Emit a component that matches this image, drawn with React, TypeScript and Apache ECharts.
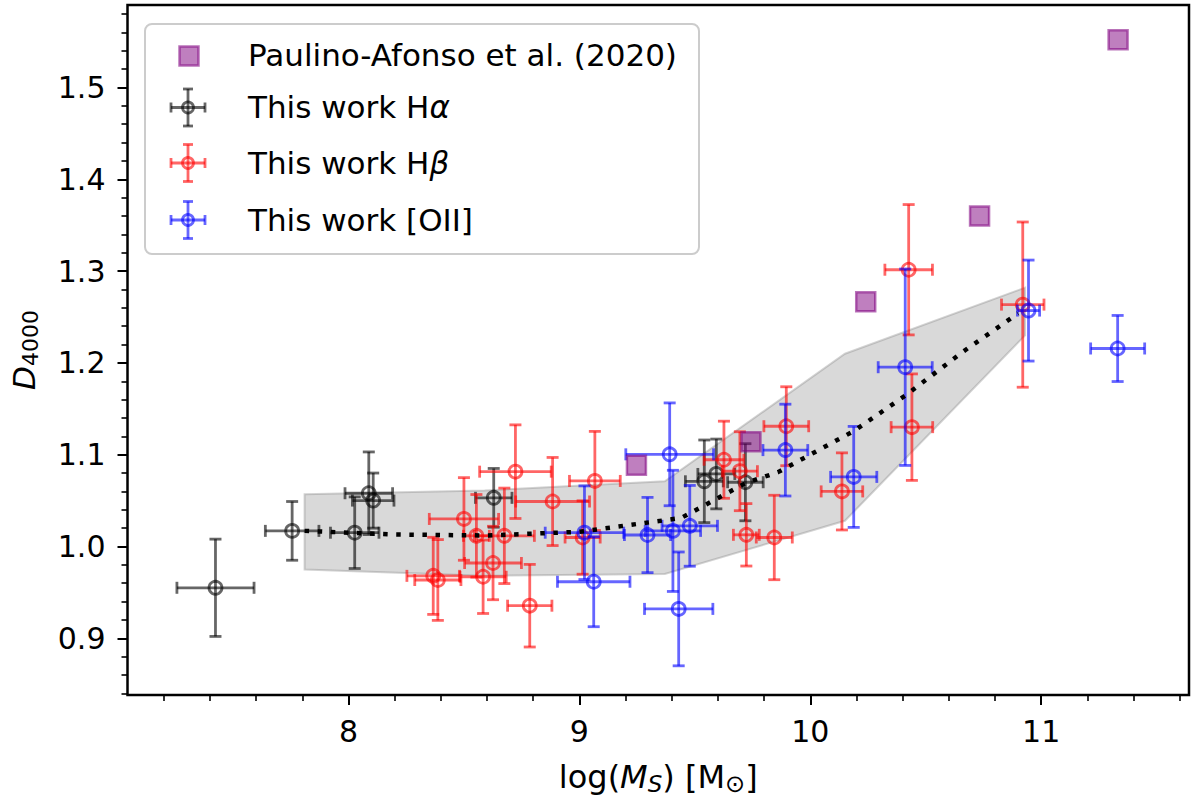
import { useEffect, useRef } from 'react';
import * as echarts from 'echarts';

const FONT = 'DejaVu Sans';

// Paulino-Afonso et al. (2020)
const paMass = [9.247, 9.743, 10.24, 10.733, 11.333];
const paD4000 = [1.0885, 1.114, 1.2665, 1.36, 1.552];

// This work, H-alpha
const haMass = [7.424, 7.756, 8.027, 8.088, 8.107, 8.629, 9.541, 9.593, 9.719];
const haD4000 = [0.955, 1.017, 1.015, 1.058, 1.05, 1.053, 1.071, 1.079, 1.07];
const haMassErr = [0.167, 0.116, 0.105, 0.103, 0.09, 0.079, 0.082, 0.08, 0.077];
const haD4000Err = [0.053, 0.032, 0.039, 0.045, 0.03, 0.032, 0.045, 0.038, 0.042];

// This work, H-beta
const hbMass = [8.367, 8.387, 8.5, 8.554, 8.583, 8.626, 8.675, 8.723, 8.785, 8.884, 9.014,
  9.067, 9.626, 9.695, 9.723, 9.844, 9.896, 10.137, 10.426, 10.44, 10.92];
const hbD4000 = [0.968, 0.9635, 1.03, 1.0116, 0.967, 0.982, 1.0116, 1.0815, 0.9355, 1.049, 1.0098,
  1.0714, 1.0945, 1.082, 1.0127, 1.0098, 1.131, 1.06, 1.3015, 1.13, 1.2635];
const hbMassErr = [0.114, 0.1, 0.15, 0.056, 0.1, 0.123, 0.13, 0.155, 0.096, 0.16, 0.076,
  0.11, 0.086, 0.076, 0.056, 0.078, 0.097, 0.09, 0.103, 0.09, 0.092];
const hbD4000Err = [0.042, 0.044, 0.045, 0.045, 0.04, 0.04, 0.052, 0.051, 0.045, 0.048, 0.04,
  0.054, 0.042, 0.043, 0.034, 0.046, 0.043, 0.042, 0.071, 0.058, 0.09];

// This work, [OII]
const oiiMass = [9.022, 9.062, 9.295, 9.391, 9.405, 9.43, 9.478, 9.892, 10.188, 10.411, 10.945, 11.331];
const oiiD4000 = [1.015, 0.9616, 1.0125, 1.1004, 1.017, 0.932, 1.0225, 1.105, 1.0758, 1.1953, 1.257, 1.2157];
const oiiMassErr = [0.17, 0.157, 0.1, 0.19, 0.12, 0.148, 0.12, 0.097, 0.1, 0.117, 0.048, 0.117];
const oiiD4000Err = [0.051, 0.049, 0.041, 0.056, 0.066, 0.062, 0.044, 0.05, 0.055, 0.107, 0.055, 0.036];

// running median (dotted) and its spread (shaded band)
const medMass = [7.81, 8.2, 8.6, 9.0, 9.44, 9.58, 9.72, 9.86, 10.19, 10.42, 10.66, 10.9];
const medD4000 = [1.017, 1.013, 1.012, 1.016, 1.031, 1.05, 1.069, 1.081, 1.126, 1.166, 1.212, 1.254];
const bandMass = [7.81, 8.59, 9.37, 10.15, 10.93];
const bandLow = [0.975, 0.968, 0.97, 1.028, 1.23];
const bandHigh = [1.057, 1.061, 1.071, 1.21, 1.282];

// axes
const X_MIN = 7.043;
const X_MAX = 11.64;
const Y_MIN = 0.8382;
const Y_MAX = 1.5899;
const xMajor = [8, 9, 10, 11];
const yMajor = [0.9, 1.0, 1.1, 1.2, 1.3, 1.4, 1.5];

const minorTicks = (from: number, to: number, step: number, skip: number[]) => {
  const out: number[] = [];
  const n = Math.round((to - from) / step);
  for (let i = 0; i <= n; i++) {
    const v = Math.round((from + i * step) * 1000) / 1000;
    if (!skip.some((s) => Math.abs(s - v) < 1e-6)) out.push(v);
  }
  return out;
};
const xMinor = minorTicks(7.2, 11.6, 0.2, xMajor);
const yMinor = minorTicks(0.84, 1.58, 0.02, yMajor);

const BLACK = 'rgba(0,0,0,0.6)';
const RED = 'rgba(255,0,0,0.6)';
const BLUE = 'rgba(0,0,255,0.6)';
const PURPLE_FILL = 'rgba(128,0,128,0.5)';
const PURPLE_EDGE = 'rgba(128,0,128,0.55)';
const CAP = 6;
const LW = 2.8;

const errorSeries = (name: string, xs: number[], ys: number[], xe: number[], ye: number[], color: string) => ({
  name,
  type: 'custom',
  clip: true,
  data: xs.map((x, i) => [x, ys[i], xe[i], ye[i]]),
  encode: { x: 0, y: 1 },
  renderItem: (_params: any, api: any) => {
    const x = api.value(0);
    const y = api.value(1);
    const dx = api.value(2);
    const dy = api.value(3);
    const c = api.coord([x, y]);
    const l = api.coord([x - dx, y])[0];
    const r = api.coord([x + dx, y])[0];
    const t = api.coord([x, y + dy])[1];
    const b = api.coord([x, y - dy])[1];
    const style = { stroke: color, lineWidth: LW };
    const seg = (x1: number, y1: number, x2: number, y2: number) => ({
      type: 'line',
      shape: { x1, y1, x2, y2 },
      style,
    });
    return {
      type: 'group',
      children: [
        seg(l, c[1], r, c[1]),
        seg(c[0], t, c[0], b),
        seg(l, c[1] - CAP, l, c[1] + CAP),
        seg(r, c[1] - CAP, r, c[1] + CAP),
        seg(c[0] - CAP, t, c[0] + CAP, t),
        seg(c[0] - CAP, b, c[0] + CAP, b),
        {
          type: 'circle',
          shape: { cx: c[0], cy: c[1], r: 6.5 },
          style: { stroke: color, fill: 'none', lineWidth: LW },
        },
      ],
    };
  },
});

// legend handle: a small error-bar cross with an open circle
const legendGlyph = (cx: number, cy: number, color: string) => {
  const style = { stroke: color, lineWidth: LW };
  const seg = (x1: number, y1: number, x2: number, y2: number) => ({
    type: 'line',
    z: 102,
    shape: { x1, y1, x2, y2 },
    style,
  });
  return [
    seg(cx - 17, cy, cx + 17, cy),
    seg(cx, cy - 18.5, cx, cy + 18.5),
    seg(cx - 17, cy - 5, cx - 17, cy + 5),
    seg(cx + 17, cy - 5, cx + 17, cy + 5),
    seg(cx - 5, cy - 18.5, cx + 5, cy - 18.5),
    seg(cx - 5, cy + 18.5, cx + 5, cy + 18.5),
    {
      type: 'circle',
      z: 102,
      shape: { cx, cy, r: 5.5 },
      style: { stroke: color, fill: 'none', lineWidth: LW },
    },
  ];
};

const legendRich = {
  n: { fontSize: 31, fontFamily: FONT, color: '#000' },
  i: { fontSize: 31, fontFamily: FONT, fontStyle: 'italic', color: '#000' },
};

const legendText = (y: number, text: string) => ({
  type: 'text',
  x: 248,
  y,
  z: 102,
  style: {
    text,
    rich: legendRich,
    fontSize: 31,
    fontFamily: FONT,
    fill: '#000',
    verticalAlign: 'middle',
  },
});

const App = () => {
  const chartRef = useRef<HTMLDivElement>(null);

  useEffect(() => {
    if (!chartRef.current) return;
    const chart = echarts.init(chartRef.current, null, { renderer: 'svg' });

    const tickLabel = { color: '#000', fontSize: 30, fontFamily: FONT };

    const option = {
      animation: false,
      backgroundColor: '#fff',
      grid: {
        show: true,
        left: 127,
        right: 11,
        top: 5,
        bottom: 110,
        borderColor: '#000',
        borderWidth: 2.5,
        backgroundColor: 'transparent',
      },
      xAxis: [
        {
          type: 'value',
          position: 'bottom',
          min: X_MIN,
          max: X_MAX,
          splitLine: { show: false },
          axisLine: { show: false },
          axisTick: { customValues: xMajor, length: 10, lineStyle: { color: '#000', width: 2 } },
          axisLabel: { ...tickLabel, customValues: xMajor, margin: 21 },
          name: '{n|log(}{i|M}{is|S}{n|) [M}{s|⊙}{n|]}',
          nameLocation: 'middle',
          nameGap: 63,
          nameTextStyle: {
            fontSize: 32,
            fontFamily: FONT,
            color: '#000',
            rich: {
              n: { fontSize: 32, fontFamily: FONT, color: '#000' },
              i: { fontSize: 32, fontFamily: FONT, fontStyle: 'italic', color: '#000' },
              is: { fontSize: 23, fontFamily: FONT, fontStyle: 'italic', color: '#000', padding: [14, 0, 0, 0] },
              s: { fontSize: 24, fontFamily: FONT, color: '#000', padding: [14, 0, 0, 0] },
            },
          },
        },
        {
          type: 'value',
          position: 'bottom',
          min: X_MIN,
          max: X_MAX,
          splitLine: { show: false },
          axisLine: { show: false },
          axisLabel: { show: false },
          axisTick: { customValues: xMinor, length: 6, lineStyle: { color: '#000', width: 1.6 } },
        },
      ],
      yAxis: [
        {
          type: 'value',
          position: 'left',
          min: Y_MIN,
          max: Y_MAX,
          splitLine: { show: false },
          axisLine: { show: false },
          axisTick: { customValues: yMajor, length: 10, lineStyle: { color: '#000', width: 2 } },
          axisLabel: {
            ...tickLabel,
            customValues: yMajor,
            margin: 22,
            formatter: (v: number) => v.toFixed(1),
          },
          name: '{i|D}{s|4000}',
          nameLocation: 'middle',
          nameRotate: 90,
          nameGap: 86,
          nameTextStyle: {
            fontSize: 31,
            fontFamily: FONT,
            color: '#000',
            rich: {
              i: { fontSize: 31, fontFamily: FONT, fontStyle: 'italic', color: '#000' },
              s: { fontSize: 22, fontFamily: FONT, color: '#000', padding: [14, 0, 0, 0] },
            },
          },
        },
        {
          type: 'value',
          position: 'left',
          min: Y_MIN,
          max: Y_MAX,
          splitLine: { show: false },
          axisLine: { show: false },
          axisLabel: { show: false },
          axisTick: { customValues: yMinor, length: 6, lineStyle: { color: '#000', width: 1.6 } },
        },
      ],
      series: [
        {
          name: 'spread',
          type: 'custom',
          clip: true,
          data: bandMass.map((x, i) => [x, bandLow[i], bandHigh[i]]),
          encode: { x: 0, y: [1, 2] },
          renderItem: (params: any, api: any) => {
            if (params.dataIndex !== 0) return null;
            const upper = bandMass.map((x, i) => api.coord([x, bandHigh[i]]));
            const lower = bandMass.map((x, i) => api.coord([x, bandLow[i]])).reverse();
            return {
              type: 'polygon',
              shape: { points: upper.concat(lower) },
              style: { fill: 'rgba(128,128,128,0.3)', stroke: 'rgba(128,128,128,0.35)', lineWidth: 2 },
            };
          },
        },
        {
          name: 'Paulino-Afonso et al. (2020)',
          type: 'scatter',
          symbol: 'rect',
          symbolSize: 19,
          data: paMass.map((x, i) => [x, paD4000[i]]),
          itemStyle: { color: PURPLE_FILL, borderColor: PURPLE_EDGE, borderWidth: 2.5, opacity: 1 },
        },
        errorSeries('This work Hα', haMass, haD4000, haMassErr, haD4000Err, BLACK),
        errorSeries('This work Hβ', hbMass, hbD4000, hbMassErr, hbD4000Err, RED),
        errorSeries('This work [OII]', oiiMass, oiiD4000, oiiMassErr, oiiD4000Err, BLUE),
        {
          name: 'median',
          type: 'line',
          symbol: 'none',
          data: medMass.map((x, i) => [x, medD4000[i]]),
          lineStyle: { color: '#000', width: 4.5, type: [4.5, 8.6] },
        },
      ],
      graphic: [
        {
          type: 'rect',
          z: 100,
          shape: { x: 145, y: 24, width: 554, height: 230, r: 7 },
          style: { fill: 'rgba(255,255,255,0.8)', stroke: '#cccccc', lineWidth: 2 },
        },
        {
          type: 'rect',
          z: 102,
          shape: { x: 179.5, y: 46.5, width: 19, height: 19 },
          style: { fill: PURPLE_FILL, stroke: PURPLE_EDGE, lineWidth: 2.5 },
        },
        legendText(54.5, '{n|Paulino-Afonso et al. (2020)}'),
        ...legendGlyph(188, 107.5, BLACK),
        legendText(106.5, '{n|This work H}{i|α}'),
        ...legendGlyph(188, 163, RED),
        legendText(162.5, '{n|This work H}{i|β}'),
        ...legendGlyph(188, 220, BLUE),
        legendText(219.5, '{n|This work [OII]}'),
      ],
    };

    chart.setOption(option as any);

    return () => {
      chart.dispose();
    };
  }, []);

  return (
    <div
      ref={chartRef}
      style={{ position: 'absolute', left: 0, top: 0, width: '1200px', height: '805px' }}
    />
  );
};

export default App;
